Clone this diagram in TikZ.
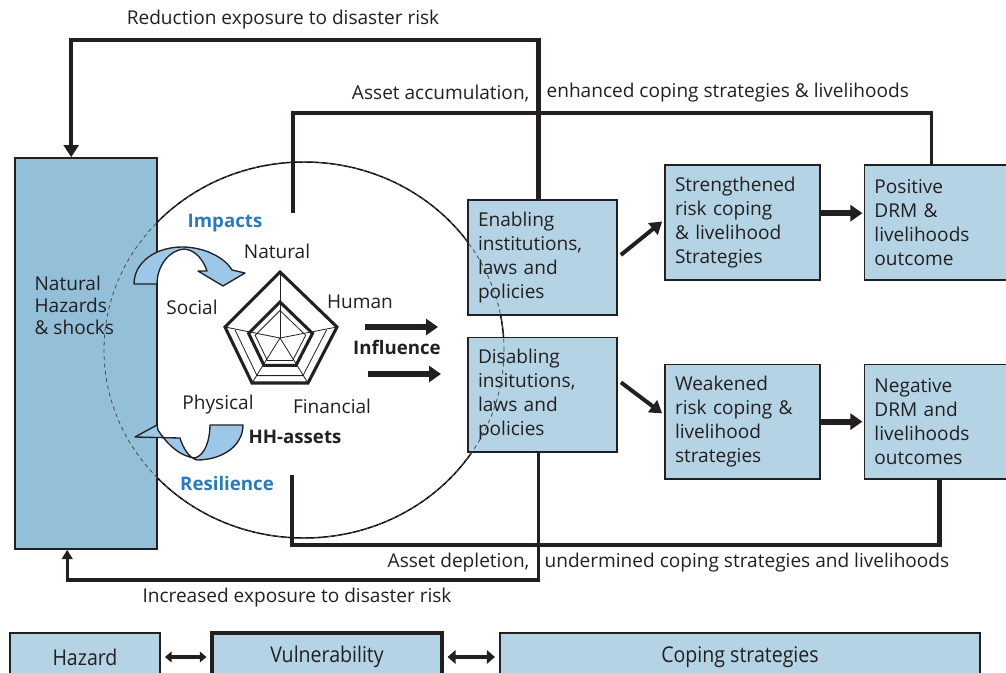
\documentclass[tikz,border=0pt]{standalone}
\usepackage{fontspec}
\setmainfont{Open Sans}
\newfontfamily\legendfont[FakeStretch=0.9]{Open Sans}
\usetikzlibrary{arrows.meta,positioning,calc}
\definecolor{ink}{HTML}{231F20}
\definecolor{hazblue}{HTML}{93BFD9}
\definecolor{boxblue}{HTML}{B4D4E6}
\definecolor{curlblue}{HTML}{9DC7E8}
\definecolor{labelblue}{HTML}{2B7BB9}

\begin{document}
\begin{tikzpicture}[
  x=0.75pt, y=-0.75pt,
  font=\fontsize{14.3}{18}\selectfont, text=ink,
  box/.style={draw=ink, fill=boxblue, line width=1.1pt, minimum height=86pt, inner xsep=7.5pt, align=left},
  inbox/.style={box, text width=96.75pt},
  midbox/.style={box, text width=101.25pt},
  outbox/.style={box, text width=97.5pt},
  legbox/.style={draw=ink, fill=boxblue, line width=1.4pt, minimum height=36pt, font=\legendfont\fontsize{16.3}{18}\selectfont},
  fbloop/.style={draw=ink, line width=3.3pt},
  thinloop/.style={draw=ink, line width=2.3pt},
  flow/.style={draw=ink, line width=3pt, -{Triangle[length=9pt,width=11pt]}},
  bigflow/.style={draw=ink, line width=4.5pt, -{Triangle[length=9pt,width=12pt]}},
  curl/.style={draw=ink, fill=curlblue, line width=1pt, line join=round},
  radar/.style={draw=ink, line width=2.3pt, line join=miter},
  spoke/.style={draw=ink, line width=0.6pt},
  tag/.style={inner sep=1pt},
  hot/.style={inner sep=1pt, font=\fontsize{14}{16}\selectfont\bfseries}
]
\useasboundingbox (0,0) rectangle (1006,673);

% household circle
\draw[line width=1.1pt] (304,350) ellipse [x radius=150pt, y radius=141pt];

% boxes
\node[draw=ink, fill=hazblue, line width=1.2pt, minimum width=106.5pt, minimum height=293.25pt] (haz) at (86,353.5) {};
\node[tag, anchor=west, align=left, font=\fontsize{14.3}{16.5}\selectfont] (hazlbl) at (33,305) {Natural\\Hazards\\\& shocks};

\node[inbox] (enab) at (542.5,257.5) {Enabling\\institutions,\\laws and\\policies};
\node[inbox, below=15.75pt of enab] (dis) {Disabling\\insitutions,\\laws and\\policies};
\node[midbox] (strong) at (742.5,222.5) {Strengthened\\risk coping\\\& livelihood\\Strategies};
\node[midbox, below=62.25pt of strong] (weak) {Weakened\\risk coping \&\\livelihood\\strategies};
\node[outbox, right=32.25pt of strong] (pos) {Positive\\DRM \&\\livelihoods\\outcome};
\node[outbox, right=32.25pt of weak] (neg) {Negative\\DRM and\\livelihoods\\outcomes};

\draw[dash pattern=on 3pt off 2.5pt, line width=0.6pt, ink!80] (304,350) ellipse [x radius=150pt, y radius=141pt];

% household assets
\draw[radar] (280,272) -- (337,327) -- (308,383) -- (252,383) -- (225,327) -- cycle;
\draw[spoke] (234.9,329.7) -- (257,375.6) -- (303,375.6) -- (326.7,329.7);
\coordinate (hh) at (280,338);
\foreach \v in {(280,272),(337,327),(308,383),(252,383),(225,327)}
  \draw[spoke] (hh) -- \v;
\draw[radar] (280,302) -- (312.5,333.4) -- (296,365.4) -- (264,365.4) -- (248.6,333.4) -- cycle;
\draw[spoke] (280,310.5) -- (305.7,335.3) -- (292.6,360.5) -- (267.4,360.5) -- (255.2,335.3) -- cycle;

\node[tag] (natural) at (277,251) {Natural};
\node[tag] (human) at (360,302) {Human};
\node[tag] (social) at (192,307) {Social};
\node[tag] (physical) at (218,405) {Physical};
\node[tag] (financial) at (332,406) {Financial};
\node[hot, text=labelblue] (impacts) at (225,223) {Impacts};
\node[hot, text=labelblue] (resil) at (227,483) {Resilience};
\node[hot] (hhassets) at (295,437) {HH-assets};
\node[hot] (influence) at (397,347) {Influence};

% impact and resilience curls
\draw[curl] (134,284) .. controls (134,262) and (156,247) .. (182,247)
  .. controls (205,247) and (225,258) .. (232,270) -- (245,273) -- (223,286)
  -- (198,271) -- (207,271) .. controls (203,260) and (196,250) .. (184,249)
  .. controls (170,250) and (157,265) .. (157,284) -- cycle;
\draw[curl] (210,425) -- (243,425) .. controls (243,446) and (222,460) .. (197,460)
  .. controls (189,458) and (183,448) .. (180,438) -- (135,437) -- (157,425)
  -- (158,430) .. controls (168,446) and (182,457) .. (195,458)
  .. controls (205,455) and (210,440) .. (210,425) -- cycle;

% influence
\coordinate (inf1) at (365,327);
\coordinate (inf1e) at (438,327);
\coordinate (inf2) at (368,374);
\coordinate (inf2e) at (441,374);
\draw[bigflow] (inf1) -- (inf1e);
\draw[bigflow] (inf2) -- (inf2e);

% flows between boxes
\draw[flow, shorten <=3pt, shorten >=2pt] (enab.east) -- ([yshift=2pt]strong.west);
\draw[flow, shorten <=3pt, shorten >=2pt] ([yshift=11pt]dis.east) -- ([yshift=5pt]weak.west);
\draw[bigflow, shorten >=1pt] ([yshift=7pt]strong.east) -- ([yshift=7pt]pos.west);
\draw[bigflow, shorten >=1pt] (weak.east) -- (neg.west);

% feedback loops
\coordinate (redtop) at (0,40);
\draw[fbloop, -{Triangle[length=9pt,width=11pt]}] ([xshift=-3pt]enab.north) -- ([xshift=-3pt]enab.north |- redtop) -| ($(haz.north west)+(57,0)$);
\node[tag] (redlbl) at (283,20) {Reduction exposure to disaster risk};

\coordinate (accstart) at (293,213);
\coordinate (acctop) at (0,113);
\draw[thinloop] (accstart) -- (accstart |- acctop) -| ([xshift=-6pt]pos.north);
\node[tag, anchor=east] (acclbl1) at (531,93) {Asset accumulation,};
\node[tag, anchor=west] (acclbl2) at (545,93) {enhanced coping strategies \& livelihoods};

\coordinate (depend) at (292,475);
\coordinate (depbot) at (0,545);
\draw[fbloop] (neg.south) -- (neg.south |- depbot) -| (depend);
\node[tag, anchor=east] (deplbl1) at (531,563) {Asset depletion,};
\node[tag, anchor=west] (deplbl2) at (543,563) {undermined coping strategies and livelihoods};

\coordinate (incbot) at (0,580);
\draw[thinloop, -{Triangle[length=7pt,width=8pt]}] ([xshift=-3pt]dis.south) -- ([xshift=-3pt]dis.south |- incbot) -| ($(haz.south west)+(53,0)$);
\node[tag] (inclbl) at (297,598) {Increased exposure to disaster risk};

% legend
\node[legbox, minimum width=112.5pt] (hazleg) at (85,657) {Hazard};
\node[legbox, minimum width=172.5pt, line width=2.3pt] (vulleg) at (327,657) {Vulnerability};
\node[legbox, minimum width=360pt, line width=1.6pt] (copleg) at (740,657) {Coping strategies};
\draw[draw=ink, line width=2.5pt, {Triangle[length=5pt,width=8pt]}-{Triangle[length=5pt,width=8pt]}, shorten <=3pt, shorten >=3pt] (hazleg) -- (vulleg);
\draw[draw=ink, line width=3pt, {Triangle[length=6pt,width=10pt]}-{Triangle[length=6pt,width=10pt]}, shorten <=3pt, shorten >=3pt] (vulleg) -- (copleg);
\end{tikzpicture}
\end{document}
